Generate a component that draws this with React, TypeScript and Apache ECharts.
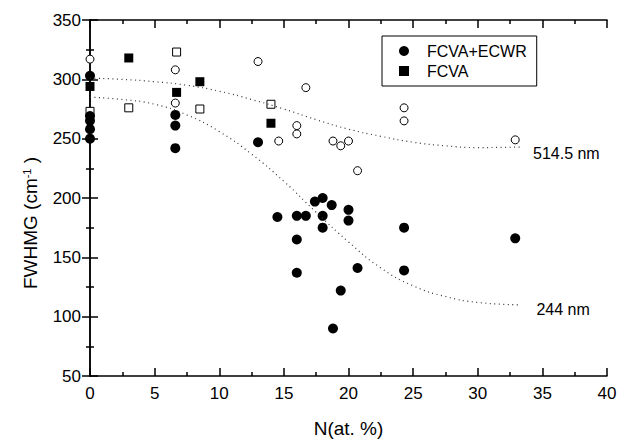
import { useEffect, useRef } from "react";
import * as echarts from "echarts";

const FONT = "'Liberation Sans', Arial, sans-serif";

// 244 nm excitation (filled marks)
const ecwr244 = [
  [0, 303], [0, 269], [0, 265], [0, 258], [0, 250],
  [6.6, 270], [6.6, 261], [6.6, 242], [13.0, 247],
  [14.5, 184], [16.0, 185], [16.0, 165], [16.0, 137], [16.7, 185],
  [17.4, 197], [18.0, 200], [18.0, 185], [18.0, 175], [18.7, 194],
  [18.8, 90], [19.4, 122], [20.0, 190], [20.0, 181], [20.7, 141],
  [24.3, 175], [24.3, 139], [32.9, 166],
];
const fcva244 = [[0, 294], [3.0, 318], [6.7, 289], [8.5, 298], [14.0, 263]];

// 514.5 nm excitation (open marks)
const ecwr514 = [
  [0, 317], [6.6, 308], [6.6, 280], [13.0, 315], [14.6, 248],
  [16.0, 261], [16.0, 254], [16.7, 293], [18.8, 248], [19.4, 244],
  [20.0, 248], [20.7, 223], [24.3, 276], [24.3, 265], [32.9, 249],
];
const fcva514 = [[0, 273], [3.0, 276], [6.7, 323], [8.5, 275], [14.0, 279]];

// guide-to-the-eye curves
const guide514 = [
  [0, 301], [2.5, 300], [5, 298], [7.5, 295], [10, 290], [12.5, 283],
  [15, 275], [17.5, 266], [20, 258], [22.5, 252], [25, 247],
  [27.5, 244], [30, 242.5], [33.5, 243],
];
const guide244 = [
  [0, 285], [2.5, 283], [5, 279], [7.5, 270], [10, 256], [12.5, 237],
  [15, 214], [17.5, 188], [20, 163], [22.5, 141], [25, 126],
  [27.5, 117], [30, 112], [33.3, 110],
];

const App = () => {
  const chartRef = useRef<HTMLDivElement | null>(null);

  useEffect(() => {
    if (!chartRef.current) return;
    const chart = echarts.init(chartRef.current, null, { renderer: "svg" });

    const axisLine = { show: true, lineStyle: { color: "#000", width: 1.5 } };
    const xBase = {
      type: "value" as const,
      min: 0,
      max: 40,
      interval: 5,
      axisLine,
      axisTick: { show: true, inside: true, length: 8, lineStyle: { color: "#000", width: 1.5 } },
      minorTick: { show: true, splitNumber: 2, length: 4, lineStyle: { color: "#000", width: 1.5 } },
      splitLine: { show: false },
    };
    const yBase = {
      type: "value" as const,
      min: 50,
      max: 350,
      interval: 50,
      axisLine,
      axisTick: { show: true, inside: true, length: 8, lineStyle: { color: "#000", width: 1.5 } },
      minorTick: { show: true, splitNumber: 2, length: 4, lineStyle: { color: "#000", width: 1.5 } },
      splitLine: { show: false },
    };
    const guideLine = { color: "#333", width: 1.2, type: [1, 3.5] as number[] };

    chart.setOption({
      animation: false,
      backgroundColor: "#fff",
      textStyle: { fontFamily: FONT, color: "#000" },
      grid: { left: 90, right: 23, top: 20, bottom: 62 },
      xAxis: [
        {
          ...xBase,
          position: "bottom",
          axisLabel: { fontSize: 17, color: "#000", margin: 9, fontFamily: FONT },
          name: "N(at. %)",
          nameLocation: "middle",
          nameGap: 43,
          nameTextStyle: { fontSize: 19, color: "#000", fontFamily: FONT },
        },
        { ...xBase, position: "top", axisLabel: { show: false } },
      ],
      yAxis: [
        {
          ...yBase,
          position: "left",
          axisLabel: { fontSize: 17, color: "#000", margin: 9, fontFamily: FONT },
          name: "FWHMG (cm{sup|-1} )",
          nameLocation: "middle",
          nameGap: 50,
          nameTextStyle: {
            fontSize: 19,
            color: "#000",
            fontFamily: FONT,
            padding: [0, 50, 0, 0],
            rich: {
              sup: {
                fontSize: 11,
                color: "#000",
                fontFamily: FONT,
                verticalAlign: "top",
                padding: [0, 0, 8, 0],
              },
            },
          },
        },
        { ...yBase, position: "right", axisLabel: { show: false } },
      ],
      legend: {
        data: ["FCVA+ECWR", "FCVA"],
        orient: "vertical",
        left: 382,
        top: 36,
        padding: [7, 10, 7, 17],
        itemWidth: 10,
        itemHeight: 10,
        itemGap: 4,
        borderColor: "#000",
        borderWidth: 1,
        borderRadius: 0,
        backgroundColor: "#fff",
        textStyle: { fontSize: 16, color: "#000", fontFamily: FONT, padding: [0, 0, 0, 13] },
      },
      series: [
        {
          type: "line",
          name: "guide514",
          data: guide514,
          smooth: true,
          symbol: "none",
          lineStyle: guideLine,
          silent: true,
          endLabel: {
            show: true,
            formatter: "514.5 nm",
            fontSize: 16,
            color: "#000",
            fontFamily: FONT,
            distance: 10,
            offset: [0, 7],
          },
        },
        {
          type: "line",
          name: "guide244",
          data: guide244,
          smooth: true,
          symbol: "none",
          lineStyle: guideLine,
          silent: true,
          endLabel: {
            show: true,
            formatter: "244 nm",
            fontSize: 16,
            color: "#000",
            fontFamily: FONT,
            distance: 16,
            offset: [0, 5],
          },
        },
        {
          type: "scatter",
          name: "ECWR 514.5",
          data: ecwr514,
          symbol: "circle",
          symbolSize: 8,
          itemStyle: { color: "#fff", borderColor: "#000", borderWidth: 1, opacity: 1 },
        },
        {
          type: "scatter",
          name: "FCVA 514.5",
          data: fcva514,
          symbol: "rect",
          symbolSize: 8,
          itemStyle: { color: "#fff", borderColor: "#000", borderWidth: 1, opacity: 1 },
        },
        {
          type: "scatter",
          name: "FCVA+ECWR",
          data: ecwr244,
          symbol: "circle",
          symbolSize: 10,
          itemStyle: { color: "#000", opacity: 1 },
        },
        {
          type: "scatter",
          name: "FCVA",
          data: fcva244,
          symbol: "rect",
          symbolSize: 9,
          itemStyle: { color: "#000", opacity: 1 },
        },
      ],
    });

    return () => {
      chart.dispose();
    };
  }, []);

  return (
    <div
      ref={chartRef}
      style={{ position: "fixed", left: 0, top: 0, width: "630px", height: "443px" }}
    />
  );
};

export default App;
